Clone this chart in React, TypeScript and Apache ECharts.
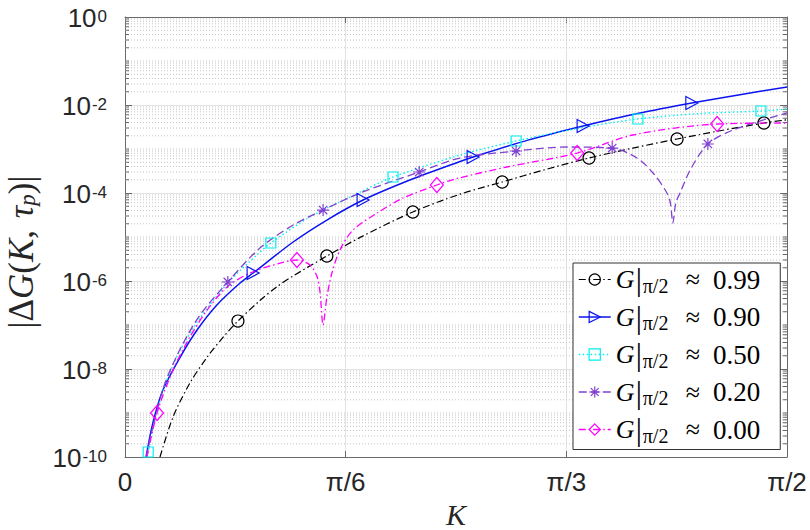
import React, { useEffect, useRef } from 'react';
import * as echarts from 'echarts';

// ---- tick labels ----
const xTickLabels = ['0', 'π/6', 'π/3', 'π/2'];
const yTickExponents = [-10, -8, -6, -4, -2, 0];
const minorMantissas = [2, 3, 4, 5, 6, 7, 8, 9];
const gridDecades = [-10, -9, -8, -7, -6, -5, -4, -3, -2, -1];
const unlabeledDecades = [-9, -7, -5, -3, -1];

// ---- legend values: G|π/2 ≈ ... ----
const gLabels = ['0.99', '0.90', '0.50', '0.20', '0.00'];

// ---- series data: [K, |ΔG|] ----
const g099Curve = [
  [0.083, 1.0e-10], [0.114, 8.1e-10], [0.154, 4.8e-9], [0.195, 1.87e-8], [0.233, 5.3e-8],
  [0.320, 3.6e-7], [0.363, 7.7e-7], [0.399, 1.3e-6], [0.558, 9.8e-6], [0.795, 9.4e-5],
  [0.997, 3.4e-4], [1.205, 1.05e-3], [1.412, 2.6e-3], [1.571, 4.6e-3],
];
const g099Marks = [
  [0.268, 1.23e-7], [0.479, 3.7e-6], [0.683, 3.7e-5], [0.895, 1.78e-4],
  [1.101, 6.24e-4], [1.310, 1.69e-3], [1.516, 3.9e-3],
];

const g090Curve = [
  [0.050, 1.0e-10], [0.066, 5.9e-10], [0.090, 3.33e-9], [0.131, 1.87e-8], [0.171, 7.7e-8],
  [0.218, 2.85e-7], [0.273, 9.0e-7], [0.399, 7.7e-6], [0.479, 2.43e-5], [0.676, 1.97e-4],
  [0.795, 5.2e-4], [0.956, 1.59e-3], [1.216, 6.38e-3], [1.459, 1.72e-2], [1.571, 2.56e-2],
];
const g090Marks = [
  [0.304, 1.52e-6], [0.565, 6.93e-5], [0.826, 6.58e-4], [1.087, 3.33e-3], [1.345, 1.11e-2],
];

const g050Curve = [
  [0.052, 1.0e-10], [0.071, 6.9e-10], [0.095, 4.3e-9], [0.131, 2.7e-8], [0.178, 1.44e-7],
  [0.244, 9.0e-7], [0.313, 3.9e-6], [0.439, 2.85e-5], [0.558, 1.05e-4], [0.795, 7.3e-4],
  [1.073, 2.92e-3], [1.364, 6.4e-3], [1.571, 8.1e-3],
];
const g050Marks = [
  [0.055, 1.3e-10], [0.346, 7.3e-6], [0.636, 2.31e-4], [0.928, 1.52e-3], [1.217, 4.81e-3], [1.509, 7.3e-3],
];

const g020Curve = [
  [0.050, 1.0e-10], [0.071, 7.7e-10], [0.095, 4.8e-9], [0.131, 2.85e-8], [0.178, 1.69e-7],
  [0.320, 5.6e-6], [0.399, 1.87e-5], [0.558, 1.0e-4], [0.795, 6.24e-4], [1.049, 1.11e-3],
  [1.215, 6.24e-4], [1.253, 2.85e-4], [1.286, 1.0e-4], [1.294, 6.0e-5], [1.300, 2.08e-5],
  [1.307, 6.0e-5], [1.317, 1.0e-4], [1.341, 3.33e-4], [1.443, 2.7e-3], [1.571, 6.6e-3],
];
const g020Marks = [
  [0.244, 9.5e-7], [0.470, 4.1e-5], [0.698, 3.0e-4], [0.928, 9.0e-4], [1.156, 1.05e-3], [1.383, 1.3e-3],
];

const g000Curve = [
  [0.052, 1.0e-10], [0.114, 9.5e-9], [0.154, 5.3e-8], [0.195, 2.19e-7], [0.242, 7.3e-7],
  [0.297, 1.52e-6], [0.368, 2.56e-6], [0.439, 2.31e-6], [0.456, 1.23e-6], [0.463, 5.3e-7],
  [0.470, 1.0e-7], [0.479, 4.3e-7], [0.491, 1.52e-6], [0.510, 5.07e-6], [0.541, 1.44e-5],
  [0.598, 3.5e-5], [0.660, 7.7e-5], [0.783, 2.08e-4], [0.906, 3.9e-4], [1.205, 2.08e-3],
  [1.571, 3.9e-3],
];
const g000Marks = [
  [0.076, 1.0e-9], [0.408, 3.0e-6], [0.740, 1.52e-4], [1.073, 8.1e-4], [1.405, 3.7e-3],
];

const TRI_RIGHT = 'path://M0,0L14,7L0,14Z';
const STAR = 'path://M5,0L5,10M0,5L10,5M1.5,1.5L8.5,8.5M1.5,8.5L8.5,1.5';

const seriesDefs = [
  { name: gLabels[0], curve: g099Curve, marks: g099Marks, color: '#000000', dash: [7, 3, 1.5, 3], width: 1.2, symbol: 'circle', size: 12 },
  { name: gLabels[1], curve: g090Curve, marks: g090Marks, color: '#0a14f0', dash: 'solid', width: 1.5, symbol: TRI_RIGHT, size: [12, 13] },
  { name: gLabels[2], curve: g050Curve, marks: g050Marks, color: '#00f0f0', dash: [1.5, 2.5], width: 1.4, symbol: 'rect', size: 10 },
  { name: gLabels[3], curve: g020Curve, marks: g020Marks, color: '#8040d0', dash: [8, 4], width: 1.3, symbol: STAR, size: 12 },
  { name: gLabels[4], curve: g000Curve, marks: g000Marks, color: '#ff00ff', dash: [7, 3, 1.5, 3], width: 1.3, symbol: 'diamond', size: [13, 15] },
];

const axisColor = '#6a6a6a';
const textColor = '#262626';

export default function App() {
  const ref = useRef<HTMLDivElement>(null);

  useEffect(() => {
    if (!ref.current) return;
    const chart = echarts.init(ref.current, undefined, { renderer: 'svg' });

    const minorValues: number[] = [];
    gridDecades.forEach((d) => minorMantissas.forEach((m) => minorValues.push(m * Math.pow(10, d))));
    unlabeledDecades.forEach((d) => minorValues.push(Math.pow(10, d)));

    const gridSeries = {
      type: 'custom',
      name: '__minor',
      silent: true,
      clip: false,
      data: minorValues.map((v) => [0, v]),
      encode: { x: 0, y: 1 },
      renderItem: (params: any, api: any) => {
        const v = api.value(1);
        const y = api.coord([0, v])[1];
        const cs = params.coordSys;
        const x0 = cs.x;
        const x1 = cs.x + cs.width;
        return {
          type: 'group',
          children: [
            { type: 'line', shape: { x1: x0, y1: y, x2: x1, y2: y }, style: { stroke: '#c4c4c4', lineWidth: 1, lineDash: [1, 2] } },
            { type: 'line', shape: { x1: x0, y1: y, x2: x0 + 4, y2: y }, style: { stroke: axisColor, lineWidth: 1 } },
            { type: 'line', shape: { x1: x1 - 4, y1: y, x2: x1, y2: y }, style: { stroke: axisColor, lineWidth: 1 } },
          ],
        };
      },
      z: 1,
    };

    const lineSeries = seriesDefs.map((s) => {
      const items = [
        ...s.curve.map((p) => ({ value: p, symbol: 'none' })),
        ...s.marks.map((p) => ({ value: p })),
      ].sort((a, b) => a.value[0] - b.value[0]);
      return {
        type: 'line',
        name: s.name,
        data: items,
        smooth: 0.3,
        showSymbol: true,
        showAllSymbol: true,
        symbol: s.symbol,
        symbolSize: s.size,
        lineStyle: { color: s.color, width: s.width, type: s.dash },
        itemStyle: { color: 'rgba(0,0,0,0)', borderColor: s.color, borderWidth: 1.2 },
        emphasis: { disabled: true },
        z: 3,
      };
    });

    const serif = 'Liberation Serif';
    const richLegend = {
      g: { fontFamily: serif, fontStyle: 'italic', fontSize: 26, lineHeight: 32, width: 20, verticalAlign: 'middle', color: '#000' },
      bar: { fontFamily: serif, fontSize: 31, lineHeight: 32, width: 7, verticalAlign: 'middle', color: '#000' },
      sub: { fontFamily: serif, fontSize: 20, lineHeight: 20, width: 32, verticalAlign: 'bottom', color: '#000' },
      ap: { fontFamily: serif, fontSize: 26, lineHeight: 32, padding: [0, 13, 0, 11], verticalAlign: 'middle', color: '#000' },
      num: { fontFamily: serif, fontSize: 27, lineHeight: 32, verticalAlign: 'middle', color: '#000' },
    };

    const option = {
      animation: false,
      backgroundColor: '#ffffff',
      grid: { left: 125, right: 23, top: 17, bottom: 73, containLabel: false, outerBoundsMode: 'none' },
      xAxis: [
        {
          type: 'value', min: 0, max: Math.PI / 2, interval: Math.PI / 6, position: 'bottom',
          axisLine: { show: true, onZero: false, lineStyle: { color: axisColor, width: 1 } },
          axisTick: { show: true, inside: true, length: 6, lineStyle: { color: axisColor } },
          axisLabel: {
            formatter: (v: number) => xTickLabels[Math.round(v / (Math.PI / 6))] ?? '',
            margin: 12, fontSize: 26, fontFamily: 'Liberation Sans', color: textColor,
            showMinLabel: true, showMaxLabel: true,
          },
          splitLine: { show: true, lineStyle: { color: '#e3e3e3', width: 1 } },
          name: 'K', nameLocation: 'middle', nameGap: 36,
          nameTextStyle: { fontFamily: serif, fontStyle: 'italic', fontSize: 30, color: textColor },
        },
        {
          type: 'value', min: 0, max: Math.PI / 2, interval: Math.PI / 6, position: 'top',
          axisLine: { show: true, onZero: false, lineStyle: { color: axisColor, width: 1 } },
          axisTick: { show: true, inside: true, length: 6, lineStyle: { color: axisColor } },
          axisLabel: { show: false },
          splitLine: { show: false },
        },
      ],
      yAxis: [
        {
          type: 'log', logBase: 10, min: 1e-10, max: 1, interval: 2, position: 'left',
          axisLine: { show: true, onZero: false, lineStyle: { color: axisColor, width: 1 } },
          axisTick: { show: true, inside: true, length: 7, lineStyle: { color: axisColor } },
          axisLabel: {
            formatter: (v: number) => {
              const e = Math.round(Math.log10(v));
              return yTickExponents.includes(e) ? `{b|10}{s|${e}}` : '';
            },
            margin: 18,
            rich: {
              b: { fontFamily: 'Liberation Sans', fontSize: 26, lineHeight: 28, padding: [10, 0, 0, 0], verticalAlign: 'bottom', color: textColor },
              s: { fontFamily: 'Liberation Sans', fontSize: 17, lineHeight: 17, padding: [5, 0, 0, 1], verticalAlign: 'top', color: textColor },
            },
          },
          splitLine: { show: true, lineStyle: { color: '#e3e3e3', width: 1 } },
          name: '{n||Δ}{i|G}{n|(}{i|K}{n|,}{sp| }{i|τ}{s|p}{n|)|}',
          nameLocation: 'middle', nameRotate: 90, nameGap: 86,
          nameTextStyle: {
            padding: [0, 30, 0, 0],
            fontFamily: serif,
            rich: {
              n: { fontFamily: serif, fontSize: 35, lineHeight: 35, verticalAlign: 'middle', color: textColor },
              i: { fontFamily: serif, fontStyle: 'italic', fontSize: 35, lineHeight: 35, verticalAlign: 'middle', color: textColor },
              sp: { fontFamily: serif, fontSize: 35, lineHeight: 35, padding: [0, 3, 0, 0], verticalAlign: 'middle', color: textColor },
              s: { fontFamily: serif, fontStyle: 'italic', fontSize: 23, lineHeight: 23, verticalAlign: 'bottom', color: textColor },
            },
          },
        },
        {
          type: 'log', logBase: 10, min: 1e-10, max: 1, interval: 2, position: 'right',
          axisLine: { show: true, onZero: false, lineStyle: { color: axisColor, width: 1 } },
          axisTick: { show: true, inside: true, length: 7, lineStyle: { color: axisColor } },
          axisLabel: { show: false },
          splitLine: { show: false },
        },
      ],
      legend: {
        orient: 'vertical',
        left: 573,
        top: 263,
        padding: [1, 20, 4, 5],
        itemWidth: 32,
        itemHeight: 14,
        itemGap: 6,
        selectedMode: false,
        backgroundColor: '#ffffff',
        borderColor: '#333333',
        borderWidth: 1,
        borderRadius: 0,
        data: seriesDefs.map((s) => ({
          name: s.name,
          itemStyle: { color: 'rgba(0,0,0,0)', borderColor: s.color, borderWidth: 1.2 },
          lineStyle: { color: s.color, width: s.width, type: s.dash },
        })),
        formatter: (name: string) => `{g|G}{bar||}{sub|π/2}{ap|≈}{num|${name}}`,
        textStyle: { fontFamily: serif, rich: richLegend },
      },
      series: [gridSeries, ...lineSeries],
    };

    chart.setOption(option as any);
    return () => chart.dispose();
  }, []);

  return (
    <div
      ref={ref}
      style={{ position: 'fixed', left: 0, top: 0, width: 810, height: 530, background: '#fff' }}
    />
  );
}
